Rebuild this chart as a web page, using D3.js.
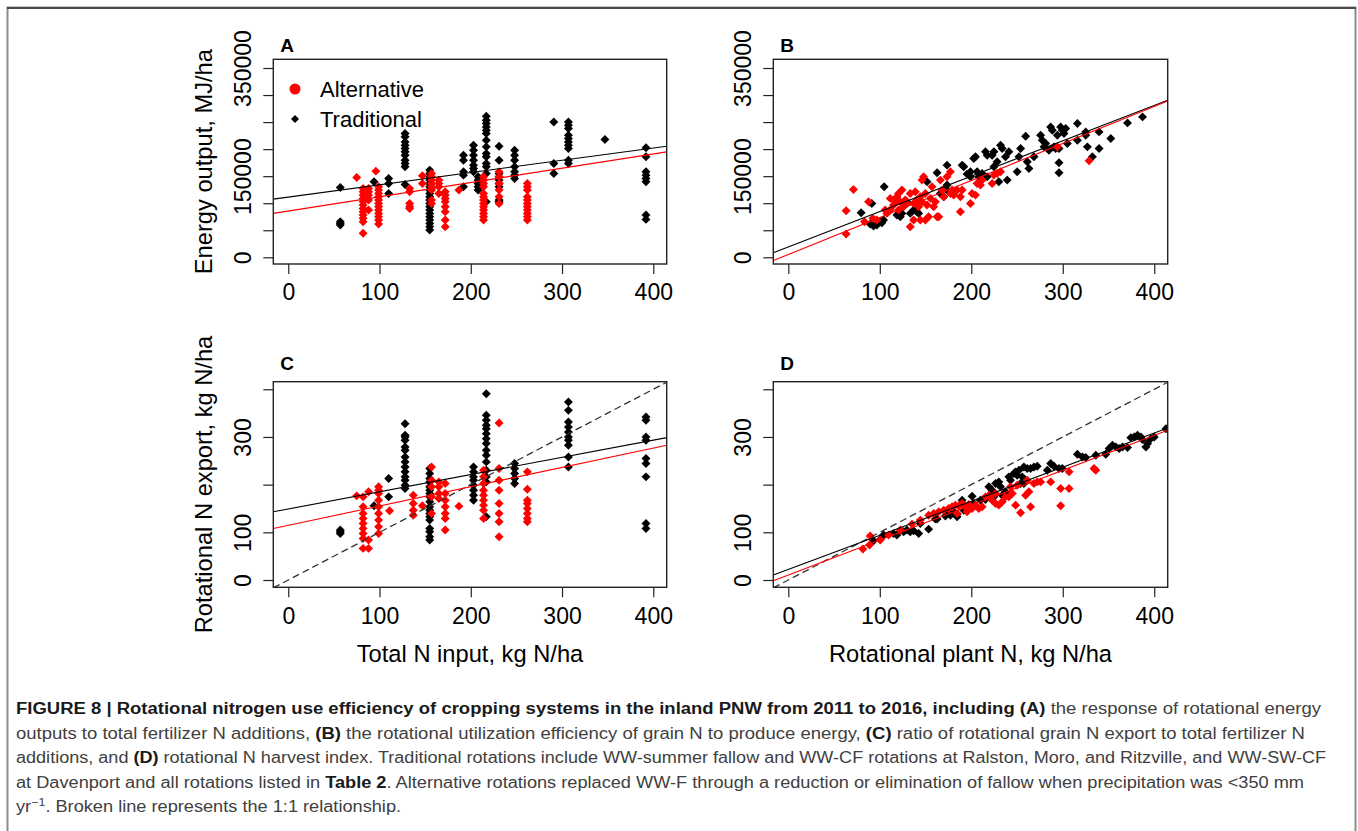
<!DOCTYPE html>
<html>
<head>
<meta charset="utf-8">
<script src="https://cdn.jsdelivr.net/npm/d3@7"></script>
<style>
  body { margin: 0; background: #fff; }
  text { font-family: "Liberation Sans", Arial, sans-serif; }
</style>
</head>
<body>
<div id="canvas"></div>
<script>
"use strict"

let svgWidth = 1358;
let svgHeight = 831;

/* ---- data ---- */

// ticks
let nTicks = [0, 100, 200, 300, 400];
let nTickLabels = ["0", "100", "200", "300", "400"];
let energyTicks = [0, 50, 100, 150, 200, 250, 300, 350];          // thousand MJ/ha
let energyTickLabels = ["0", "", "", "150000", "", "", "", "350000"];
let exportTicks = [0, 100, 200, 300, 400];
let exportTickLabels = ["0", "100", "", "300", ""];

// Panel A: energy output (thousand MJ/ha) vs total N input, as columns [x, [y...]]
let aTraditional = [
    [57, [129.2, 65.8, 62.7, 59.7]],
    [94, [139.6]],
    [110, [145.8, 136.6, 118.1]],
    [128, [228.8, 222.7, 213.4, 207.3, 201.1, 195.0, 188.8, 179.6, 173.5, 167.3, 134.7]],
    [155, [161.2, 155.0, 148.9, 142.7, 136.6, 130.4, 124.3, 118.1, 112.0, 105.8, 99.6, 93.5, 87.3, 81.2, 75.0, 68.9, 62.7, 56.6, 50.4]],
    [192, [188.8, 179.6, 158.1, 151.9, 130.4]],
    [203, [207.3, 198.1, 188.8, 179.6, 170.4, 164.2, 158.1]],
    [208, [148.9, 142.7, 136.6, 130.4, 124.3]],
    [217, [260.8, 253.4, 247.3, 241.1, 235.0, 228.8, 216.5, 204.2, 191.9, 185.8, 173.5, 167.3, 155.0, 102.7]],
    [231, [205.4, 179.6, 155.0, 148.9, 142.7, 136.6, 130.4, 105.8, 102.7]],
    [248, [198.1, 188.8, 179.6, 167.3, 158.1, 151.9, 145.8]],
    [291, [250.3, 173.5, 155.0]],
    [307, [250.3, 244.1, 238.0, 225.7, 219.6, 213.4, 207.3, 201.1, 179.6, 173.5]],
    [347, [217.7]],
    [392, [202.4, 185.8, 158.1, 151.9, 145.8, 139.6, 78.1, 70.1]]
];
let aAlternative = [
    [75, [147.6]],
    [82, [127.3, 121.2, 115.0, 108.9, 102.7, 96.6, 90.4, 84.3, 78.1, 72.0, 65.8, 44.3]],
    [88, [127.3, 121.2, 115.0, 105.8, 87.3]],
    [96, [159.3]],
    [99, [130.4, 124.3, 118.1, 112.0, 105.8, 99.6, 93.5, 87.3, 81.2, 75.0, 68.9, 61.5]],
    [133, [127.3, 121.2, 99.6, 93.5, 90.4]],
    [147, [150.7, 136.6]],
    [157, [155.0, 148.9, 142.7, 136.6, 130.4, 124.3, 105.8, 99.6]],
    [165, [142.7, 136.6, 130.4, 118.1]],
    [172, [121.2, 115.0, 108.9, 102.7, 93.5, 84.3, 68.9, 56.6]],
    [187, [124.3]],
    [214, [148.9, 142.7, 136.6, 130.4, 118.1, 112.0, 105.8, 99.6, 93.5, 87.3, 81.2, 75.0, 68.9]],
    [231, [158.1, 148.9, 136.6, 124.3, 112.0, 99.6]],
    [262, [136.6, 130.4, 124.3, 112.0, 105.8, 99.6, 93.5, 87.3, 81.2, 75.0, 68.9]]
];

// Panel B: energy output (thousand MJ/ha) vs rotational plant N, [x, y]
let bTraditional = [
    [79.6, 82.4], [91.3, 99.6], [89.5, 61.5], [93.2, 57.8], [96.8, 59.7], [100.5, 65.8], [104.8, 130.4],
    [104.1, 68.9], [102.3, 64.0], [118.7, 78.1], [122.4, 75.0], [124.2, 81.2], [129.7, 102.7], [133.3, 81.2],
    [137.0, 87.3], [140.6, 84.3], [142.5, 81.2], [151.6, 139.6], [162.6, 156.2], [166.2, 118.1], [169.9, 112.0],
    [171.7, 127.3], [173.5, 170.4], [173.5, 133.5], [175.3, 121.2], [190.0, 170.4], [191.8, 167.3], [195.4, 153.8],
    [199.1, 158.1], [202.7, 182.7], [204.6, 185.8], [206.4, 158.1], [208.2, 148.9], [211.9, 155.0], [215.5, 195.0],
    [217.4, 188.8], [222.8, 188.8], [224.7, 195.0], [228.3, 176.5], [232.0, 207.3], [233.8, 201.1], [237.4, 185.8],
    [241.1, 195.0], [230.1, 139.6], [239.3, 142.7], [250.2, 158.1], [252.1, 185.8], [253.9, 201.1], [259.4, 223.9],
    [261.2, 176.5], [263.0, 164.2], [268.5, 185.8], [275.8, 225.7], [277.6, 216.5], [279.5, 204.2], [281.3, 210.4],
    [286.8, 241.1], [288.6, 235.0], [290.4, 204.2], [292.2, 201.1], [294.1, 225.7], [295.9, 201.1], [297.7, 241.1],
    [299.5, 235.0], [301.4, 228.8], [303.2, 238.0], [305.0, 210.4], [316.0, 247.3], [316.0, 216.5], [325.1, 225.7],
    [326.9, 204.2], [332.4, 185.8], [339.7, 201.1], [339.7, 231.9], [352.5, 219.6], [295.9, 174.7], [295.9, 156.2],
    [370.8, 248.5], [387.2, 259.6], [325.1, 231.9], [284.9, 198.1], [224.7, 167.3], [217.4, 148.9], [199.1, 148.9]
];
let bAlternative = [
    [63.2, 43.1], [71.2, 125.5], [63.2, 86.1], [83.3, 65.8], [87.7, 102.7], [92.4, 72.0], [96.8, 68.9],
    [105.9, 87.3], [107.8, 81.2], [111.4, 87.3], [111.4, 108.9], [115.1, 96.6], [116.9, 102.7], [118.7, 111.9],
    [120.5, 118.1], [122.4, 102.7], [124.2, 124.3], [126.0, 93.5], [127.9, 105.8], [129.7, 99.6], [133.3, 118.1],
    [133.3, 56.6], [137.0, 99.6], [138.8, 121.2], [140.6, 105.8], [142.5, 93.5], [144.3, 68.9], [144.3, 111.9],
    [146.1, 102.7], [147.9, 148.9], [149.8, 118.1], [151.6, 96.6], [153.4, 75.0], [155.3, 108.9], [157.1, 130.4],
    [158.9, 93.5], [160.7, 102.7], [162.6, 75.0], [164.4, 75.0], [166.2, 142.7], [168.0, 124.3], [169.9, 111.9],
    [173.5, 148.9], [177.2, 158.1], [177.2, 118.1], [179.0, 124.3], [180.8, 115.0], [184.5, 124.3], [188.1, 111.9],
    [188.1, 84.3], [190.0, 124.3], [199.1, 99.6], [200.9, 118.1], [204.6, 115.0], [206.4, 136.6], [210.0, 133.5],
    [211.9, 142.7], [222.8, 136.6], [224.7, 151.9], [228.3, 155.0], [232.0, 158.1], [294.1, 204.2], [328.8, 178.4],
    [120.5, 87.3], [137.0, 68.9], [149.8, 68.9], [146.1, 142.7]
];

// Panel C: rotational N export (kg N/ha) vs total N input, columns [x, [y...]]
let cTraditional = [
    [57, [104.7, 101.2, 97.7]],
    [94, [155.6]],
    [110, [212.8, 174.4]],
    [128, [327.9, 303.5, 300.0, 293.0, 279.1, 272.1, 258.1, 247.7, 237.2, 226.8, 216.3, 209.3, 198.9, 191.9]],
    [155, [233.7, 223.3, 212.8, 205.8, 195.4, 188.4, 181.4, 174.4, 164.0, 153.5, 146.5, 139.5, 132.6, 125.6, 108.1, 101.2, 90.7, 83.7]],
    [203, [237.2, 226.8, 216.3, 209.3, 198.9, 188.4, 177.9, 167.4]],
    [217, [390.7, 345.4, 334.9, 324.4, 317.4, 307.0, 296.5, 286.1, 272.1, 261.6, 247.7, 230.2, 216.3, 205.8, 132.6]],
    [248, [244.2, 233.7, 223.3, 212.8, 202.3]],
    [307, [373.3, 355.8, 331.4, 320.9, 310.5, 300.0, 293.0, 282.6, 258.1, 237.2]],
    [392, [341.9, 334.9, 300.0, 293.0, 254.7, 244.2, 216.3, 118.6, 108.1]]
];
let cAlternative = [
    [75, [176.5]],
    [82, [174.4, 153.5, 139.5, 129.1, 118.6, 108.1, 97.7, 87.2, 66.3]],
    [88, [184.9, 83.7, 66.3]],
    [99, [195.4, 188.4, 181.4, 167.4, 153.5, 139.5, 125.6, 111.6, 97.7]],
    [111, [145.1]],
    [137, [177.9, 160.5, 146.5, 136.0]],
    [147, [155.6]],
    [157, [237.2, 209.3, 195.4, 174.4, 139.5]],
    [165, [205.8, 195.4, 181.4, 170.9]],
    [172, [202.3, 181.4, 167.4, 153.5, 139.5, 129.1, 104.7]],
    [187, [154.9]],
    [214, [230.2, 216.3, 202.3, 188.4, 177.9, 167.4, 157.0, 146.5, 129.1]],
    [231, [329.3, 233.7, 209.3, 188.4, 160.5, 139.5, 122.1, 90.7]],
    [262, [226.8, 190.5, 167.4, 160.5, 150.0, 139.5, 129.1, 122.1]]
];

// Panel D: rotational N export vs rotational plant N, [x, y]
let dTraditional = [
    [93.2, 82.3], [104.1, 94.2], [118.7, 94.2], [126.0, 101.2], [129.7, 104.7], [133.3, 101.2], [137.0, 103.3],
    [142.5, 97.7], [153.4, 106.7], [160.7, 127.7], [171.7, 134.0], [173.5, 139.5], [177.2, 136.0], [180.8, 143.0],
    [184.5, 138.1], [190.0, 167.4], [200.9, 175.8], [215.5, 168.8], [219.2, 195.4], [222.8, 188.4], [226.5, 202.3],
    [230.1, 205.8], [232.0, 195.4], [233.8, 177.9], [237.4, 184.9], [241.1, 216.3], [242.9, 209.3], [246.6, 223.3],
    [248.4, 226.8], [250.2, 219.8], [252.1, 230.2], [253.9, 202.3], [255.7, 216.3], [257.5, 237.2], [261.2, 233.7],
    [264.8, 233.7], [268.5, 237.2], [272.1, 238.6], [283.1, 230.2], [286.8, 244.2], [290.4, 238.6], [295.9, 233.7],
    [299.5, 233.7], [316.0, 263.7], [321.5, 258.1], [325.1, 256.8], [336.1, 261.6], [347.0, 263.7], [350.7, 275.6],
    [354.3, 282.6], [358.0, 279.1], [361.6, 275.6], [365.3, 279.1], [370.8, 277.7], [374.4, 298.6], [378.1, 300.0],
    [381.7, 303.5], [385.4, 300.0], [387.2, 294.4], [390.9, 279.1], [392.7, 286.1], [396.3, 296.5], [400.0, 300.0],
    [412.8, 317.4], [257.5, 202.3], [224.7, 174.4], [210.0, 167.4], [202.7, 160.5], [191.8, 146.5], [184.5, 132.6],
    [162.6, 127.7], [144.3, 118.6], [115.1, 97.7], [100.5, 85.1]
];
let dAlternative = [
    [81.5, 64.9], [89.5, 92.1], [88.8, 73.3], [100.5, 83.7], [109.6, 94.2], [122.4, 104.7], [135.2, 117.2],
    [144.3, 125.6], [153.4, 136.0], [158.9, 139.5], [164.4, 143.0], [169.9, 146.5], [175.3, 150.0], [179.0, 153.5],
    [182.7, 157.0], [186.3, 155.6], [190.0, 160.5], [193.6, 153.5], [197.3, 158.4], [200.9, 150.0], [204.6, 157.0],
    [208.2, 150.0], [211.9, 153.5], [215.5, 174.4], [219.2, 177.9], [222.8, 167.4], [226.5, 160.5], [230.1, 157.0],
    [233.8, 164.0], [237.4, 174.4], [241.1, 174.4], [244.8, 181.4], [248.4, 157.0], [253.9, 140.9], [259.4, 177.9],
    [263.0, 184.9], [264.8, 153.5], [268.5, 202.3], [272.1, 205.8], [275.8, 205.8], [286.8, 205.8], [297.7, 191.9],
    [297.7, 155.6], [306.9, 226.8], [306.9, 191.9], [334.2, 233.7], [336.1, 230.2], [184.5, 139.5], [195.4, 143.0],
    [226.5, 181.4], [242.9, 195.4], [250.2, 198.8], [261.2, 209.3]
];

// fitted regression lines [intercept, slope]
let fitTradA = [111.3, 0.227];
let fitAltA = [85.5, 0.264];
let fitTradB = [19.3, 0.6534];
let fitAltB = [5.1, 0.6847];
let fitTradC = [148.9, 0.361];
let fitAltC = [114.7, 0.405];
let fitTradD = [22.2, 0.715];
let fitAltD = [10.6, 0.7316];

let legendLabels = ["Alternative", "Traditional"];

/* ---- helpers ---- */
function fromColumns(cols) {
    return cols.flatMap(c => c[1].map(y => ({x: c[0], y: y})));
}
function fromPairs(pairs) {
    return pairs.map(p => ({x: p[0], y: p[1]}));
}

/* Create drawing canvas */
let svg = d3.select("#canvas")
    .append("svg")
    .attr("width", svgWidth)
    .attr("height", svgHeight);

svg.append("rect")
    .attr("width", svgWidth)
    .attr("height", svgHeight)
    .attr("fill", "#fff");

/* figure frame */
svg.append("rect")
    .attr("x", 7.5)
    .attr("y", 7.5)
    .attr("width", 1348)
    .attr("height", 840)
    .attr("fill", "none")
    .attr("stroke", "#8c8c8c")
    .attr("stroke-width", 2);
svg.append("line")
    .attr("x1", 7).attr("x2", 1356)
    .attr("y1", 8).attr("y2", 8)
    .attr("stroke", "#4a4a4a")
    .attr("stroke-width", 2);

let xDomain = [-16.4, 414.7];

let panels = [
    {id: "A", left: 273.3, right: 666.7, top: 59.3, bottom: 264, letterY: 45,
     yDomain: [-12.4, 366.1], yTicks: energyTicks, yLabels: energyTickLabels,
     trad: fromColumns(aTraditional), alt: fromColumns(aAlternative),
     fits: [fitTradA, fitAltA], oneToOne: false,
     yTitle: "Energy output,  MJ/ha", xTitle: null, legend: true},
    {id: "B", left: 773.3, right: 1167.7, top: 59.3, bottom: 264, letterY: 45,
     yDomain: [-12.4, 366.1], yTicks: energyTicks, yLabels: energyTickLabels,
     trad: fromPairs(bTraditional), alt: fromPairs(bAlternative),
     fits: [fitTradB, fitAltB], oneToOne: false,
     yTitle: null, xTitle: null, legend: false},
    {id: "C", left: 273.3, right: 666.7, top: 381.7, bottom: 587.3, letterY: 363,
     yDomain: [-15.3, 415.9], yTicks: exportTicks, yLabels: exportTickLabels,
     trad: fromColumns(cTraditional), alt: fromColumns(cAlternative),
     fits: [fitTradC, fitAltC], oneToOne: true,
     yTitle: "Rotational N export, kg N/ha", xTitle: "Total N input, kg N/ha", legend: false},
    {id: "D", left: 773.3, right: 1167.7, top: 381.7, bottom: 587.3, letterY: 363,
     yDomain: [-15.3, 415.9], yTicks: exportTicks, yLabels: exportTickLabels,
     trad: fromPairs(dTraditional), alt: fromPairs(dAlternative),
     fits: [fitTradD, fitAltD], oneToOne: true,
     yTitle: null, xTitle: "Rotational plant N, kg N/ha", legend: false}
];

let diamond = d3.symbol().type(d3.symbolSquare).size(40);
let legendDiamond = d3.symbol().type(d3.symbolSquare).size(32);

panels.forEach(function (p) {
    let xScale = d3.scaleLinear().domain(xDomain).range([p.left, p.right]);
    let yScale = d3.scaleLinear().domain(p.yDomain).range([p.bottom, p.top]);
    let g = svg.append("g");

    let clipId = "clip" + p.id;
    g.append("clipPath").attr("id", clipId)
        .append("rect")
        .attr("x", p.left).attr("y", p.top)
        .attr("width", p.right - p.left).attr("height", p.bottom - p.top);

    /* x axis */
    let xAxis = g.append("g")
        .attr("transform", "translate(0," + p.bottom + ")")
        .call(d3.axisBottom(xScale)
            .tickValues(nTicks)
            .tickFormat((d, i) => nTickLabels[i])
            .tickSize(10)
            .tickPadding(10));
    xAxis.select(".domain").remove();
    xAxis.selectAll("line").attr("stroke", "#222").attr("stroke-width", 1.2);
    xAxis.selectAll("text")
        .attr("font-size", 23)
        .attr("font-family", "Liberation Sans, Arial, sans-serif")
        .attr("fill", "#000");

    /* y axis, labels turned like R's las = 0 */
    let yAxis = g.append("g")
        .attr("transform", "translate(" + p.left + ",0)")
        .call(d3.axisLeft(yScale)
            .tickValues(p.yTicks)
            .tickFormat((d, i) => p.yLabels[i])
            .tickSize(10));
    yAxis.select(".domain").remove();
    yAxis.selectAll("line").attr("stroke", "#222").attr("stroke-width", 1.2);
    yAxis.selectAll("text")
        .attr("transform", "rotate(-90)")
        .attr("x", 0)
        .attr("y", -30)
        .attr("dy", "0.35em")
        .attr("text-anchor", "middle")
        .attr("font-size", 23)
        .attr("font-family", "Liberation Sans, Arial, sans-serif")
        .attr("fill", "#000");

    /* points: traditional then alternative */
    let pts = g.append("g").attr("clip-path", "url(#" + clipId + ")");
    pts.selectAll("path.trad")
        .data(p.trad)
        .join("path")
        .attr("class", "trad")
        .attr("d", diamond)
        .attr("transform", d => "translate(" + xScale(d.x) + "," + yScale(d.y) + ") rotate(45)")
        .attr("fill", "#000");
    pts.selectAll("path.alt")
        .data(p.alt)
        .join("path")
        .attr("class", "alt")
        .attr("d", diamond)
        .attr("transform", d => "translate(" + xScale(d.x) + "," + yScale(d.y) + ") rotate(45)")
        .attr("fill", "#ff0000");

    /* fitted lines and 1:1 line */
    let lineGen = d3.line().x(d => xScale(d[0])).y(d => yScale(d[1]));
    let lines = g.append("g").attr("clip-path", "url(#" + clipId + ")");
    if (p.oneToOne) {
        lines.append("path")
            .attr("d", lineGen([[xDomain[0], xDomain[0]], [xDomain[1], xDomain[1]]]))
            .attr("fill", "none")
            .attr("stroke", "#333")
            .attr("stroke-width", 1.3)
            .attr("stroke-dasharray", "7,4");
    }
    let fitColors = ["#000", "#ff0000"];
    p.fits.forEach(function (f, i) {
        lines.append("path")
            .attr("d", lineGen(xDomain.map(x => [x, f[0] + f[1] * x])))
            .attr("fill", "none")
            .attr("stroke", fitColors[i])
            .attr("stroke-width", 1.1);
    });

    /* plot box */
    g.append("rect")
        .attr("x", p.left).attr("y", p.top)
        .attr("width", p.right - p.left).attr("height", p.bottom - p.top)
        .attr("fill", "none")
        .attr("stroke", "#222")
        .attr("stroke-width", 1.4);

    /* panel letter */
    g.append("text")
        .attr("x", p.left + 7)
        .attr("y", p.letterY)
        .attr("dy", "0.36em")
        .attr("font-size", 19)
        .attr("font-weight", "bold")
        .text(p.id);

    if (p.yTitle) {
        g.append("text")
            .attr("transform", "translate(" + (p.left - 70) + "," + ((p.top + p.bottom) / 2) + ") rotate(-90)")
            .attr("text-anchor", "middle")
            .attr("dy", "0.35em")
            .attr("font-size", 23.7)
            .text(p.yTitle);
    }
    if (p.xTitle) {
        g.append("text")
            .attr("x", (p.left + p.right) / 2)
            .attr("y", p.bottom + 66)
            .attr("text-anchor", "middle")
            .attr("dy", "0.35em")
            .attr("font-size", 23.7)
            .text(p.xTitle);
    }

    /* legend */
    if (p.legend) {
        let lg = g.append("g");
        lg.append("circle")
            .attr("cx", 295).attr("cy", 89).attr("r", 5.5)
            .attr("fill", "#ff0000");
        lg.append("path")
            .attr("d", legendDiamond)
            .attr("transform", "translate(295,119) rotate(45)")
            .attr("fill", "#000");
        lg.selectAll("text")
            .data(legendLabels)
            .join("text")
            .attr("x", 320)
            .attr("y", (d, i) => 89 + i * 30)
            .attr("dy", "0.35em")
            .attr("font-size", 22)
            .text(d => d);
    }
});

/* caption */
let captionLines = [
    [["FIGURE 8 | Rotational nitrogen use efficiency of cropping systems in the inland PNW from 2011 to 2016, including (A)", true],
     [" the response of rotational energy", false]],
    [["outputs to total fertilizer N additions, ", false], ["(B)", true],
     [" the rotational utilization efficiency of grain N to produce energy, ", false], ["(C)", true],
     [" ratio of rotational grain N export to total fertilizer N", false]],
    [["additions, and ", false], ["(D)", true],
     [" rotational N harvest index. Traditional rotations include WW-summer fallow and WW-CF rotations at Ralston, Moro, and Ritzville, and WW-SW-CF", false]],
    [["at Davenport and all rotations listed in ", false], ["Table 2", true],
     [". Alternative rotations replaced WW-F through a reduction or elimination of fallow when precipitation was <350 mm", false]],
    [["yr", false], ["−1", false, true], [". Broken line represents the 1:1 relationship.", false]]
];
let captionEnds = [1321, 1305, 1326, 1304];
let captionX = 16;

let capNodes = captionLines.map(function (segs, li) {
    let t = svg.append("text")
        .attr("x", captionX)
        .attr("y", 714 + li * 24.5)
        .attr("font-size", 16)
        .attr("fill", "#404040");
    segs.forEach(function (s) {
        let ts = t.append("tspan").text(s[0]);
        if (s[1]) ts.attr("font-weight", "bold").attr("fill", "#1a1a1a");
        if (s[2]) ts.attr("font-size", 11).attr("baseline-shift", "super");
    });
    return t;
});
let lastRatio = 1;
capNodes.forEach(function (t, i) {
    let natural = t.node().getComputedTextLength();
    let target = i < captionEnds.length ? captionEnds[i] - captionX : natural * lastRatio;
    lastRatio = target / natural;
    t.attr("textLength", target).attr("lengthAdjust", "spacingAndGlyphs");
});
</script>
</body>
</html>
